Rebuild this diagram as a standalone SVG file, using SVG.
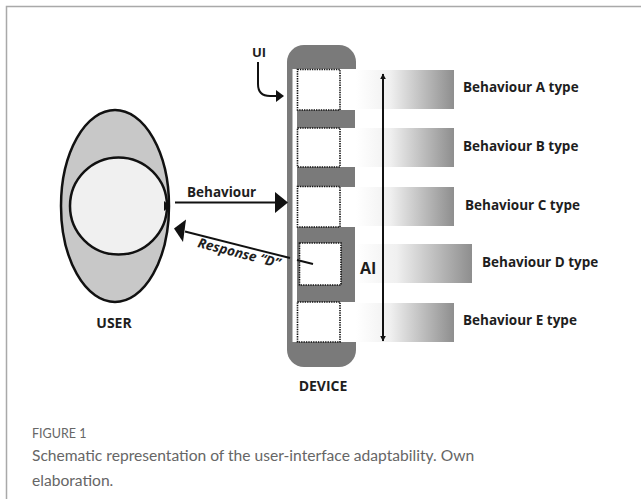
<svg xmlns="http://www.w3.org/2000/svg" width="641" height="499" viewBox="0 0 641 499">
  <defs>
    <linearGradient id="barFade" x1="0" y1="0" x2="1" y2="0">
      <stop offset="0" stop-color="#ffffff"/>
      <stop offset="0.35" stop-color="#f0f0f0"/>
      <stop offset="1" stop-color="#8e8e8e"/>
    </linearGradient>
    <marker id="head" viewBox="0 0 10 10" refX="9" refY="5" markerWidth="6" markerHeight="6" orient="auto-start-reverse" markerUnits="userSpaceOnUse">
      <path d="M0,0 L10,5 L0,10 z" fill="#111"/>
    </marker>
    <style>
      .lbl { font-family: "Open Sans", "Liberation Sans", sans-serif; font-weight: 700; fill: #1e1e1e; }
      .beh { font-size: 13.5px; }
      .dev { fill: #7a7a7a; }
      .slot { fill: #ffffff; stroke: #111; stroke-width: 1.6; stroke-dasharray: 1.4 1; }
      .bar { fill: url(#barFade); }
      .cap { font-family: Lato, "Open Sans", "Liberation Sans", sans-serif; fill: #666; }
    </style>
  </defs>

  <rect width="641" height="499" fill="#ffffff"/>
  <!-- figure frame (left and top edges) -->
  <path d="M6.5,499 V6.5 H641" fill="none" stroke="#a9a9a9" stroke-width="1.5"/>

  <!-- user -->
  <g id="user">
    <ellipse cx="115" cy="206" rx="54" ry="96" fill="#c8c8c8" stroke="#111" stroke-width="2.5"/>
    <circle cx="118.5" cy="206" r="48.5" fill="#f0f0f0" stroke="#111" stroke-width="2.5"/>
    <path d="M164,201 L170,206 L164,211 z" fill="#111"/>
    <text class="lbl" x="114" y="328" font-size="14" text-anchor="middle">USER</text>
  </g>

  <!-- behaviour bars -->
  <g id="bars">
    <rect class="bar" x="356" y="70" width="98" height="39"/>
    <rect class="bar" x="356" y="128" width="98" height="39"/>
    <rect class="bar" x="356" y="187" width="98" height="39"/>
    <rect class="bar" x="356" y="244" width="116" height="39"/>
    <rect class="bar" x="356" y="303" width="98" height="39"/>
  </g>

  <!-- device -->
  <g id="device">
    <path class="dev" d="M287,69 V62 a17,17 0 0 1 17,-17 H339 a17,17 0 0 1 17,17 V69 z"/>
    <path class="dev" d="M287,342 H356 V350 a17,17 0 0 1 -17,17 H304 a17,17 0 0 1 -17,-17 z"/>
    <rect class="dev" x="287" y="69" width="5.5" height="273"/>
    <rect class="dev" x="297" y="110" width="58" height="18"/>
    <rect class="dev" x="297" y="167" width="58" height="20"/>
    <rect class="dev" x="297" y="227" width="58" height="75"/>
    <rect class="slot" x="297.5" y="69.5" width="42.5" height="40.5"/>
    <rect class="slot" x="297.5" y="128" width="42.5" height="39"/>
    <rect class="slot" x="297.5" y="186.5" width="42.5" height="40.5"/>
    <rect class="slot" x="299.5" y="243" width="41.5" height="42"/>
    <rect class="slot" x="297.5" y="302" width="42.5" height="40"/>
    <text class="lbl" x="323" y="391" font-size="14" text-anchor="middle">DEVICE</text>
  </g>

  <!-- labels on the right -->
  <g id="labels">
    <text class="lbl beh" x="463" y="92">Behaviour A type</text>
    <text class="lbl beh" x="463" y="151">Behaviour B type</text>
    <text class="lbl beh" x="465" y="210">Behaviour C type</text>
    <text class="lbl beh" x="482" y="267">Behaviour D type</text>
    <text class="lbl beh" x="463" y="325">Behaviour E type</text>
    <text class="lbl" x="252" y="57" font-size="13">UI</text>
    <text class="lbl" x="360" y="274" font-size="16">AI</text>
  </g>

  <!-- connectors -->
  <g id="connectors" fill="none" stroke="#111">
    <!-- UI pointer -->
    <path d="M258,62 V84 Q258,96 270,96 H277" stroke-width="2"/>
    <path d="M276,90 L284,96 L276,102 z" fill="#111" stroke="none"/>
    <!-- AI range -->
    <line x1="383" y1="74" x2="383" y2="341" stroke-width="2" marker-start="url(#head)" marker-end="url(#head)"/>
    <!-- behaviour -->
    <line x1="175" y1="202.5" x2="276" y2="202.5" stroke-width="2.2"/>
    <path d="M275,192 L288,202.5 L275,213 z" fill="#111" stroke="none"/>
    <!-- response -->
    <line x1="185" y1="231.5" x2="290" y2="258" stroke-width="2"/>
    <line x1="297" y1="260" x2="313" y2="264" stroke-width="2"/>
    <path d="M174,228.5 L186,219.5 L183,242 z" fill="#111" stroke="none"/>
  </g>
  <text class="lbl" x="0" y="0" font-size="13.5" font-style="italic" transform="translate(197,247) rotate(14.3)">Response “D”</text>
  <text class="lbl" x="187" y="197" font-size="13.5">Behaviour</text>

  <!-- caption -->
  <text class="cap" x="32" y="438" font-size="12.5">FIGURE 1</text>
  <text class="cap" x="32" y="461" font-size="15.6" fill="#595959">Schematic representation of the user-interface adaptability. Own</text>
  <text class="cap" x="32" y="486" font-size="15.6" fill="#595959">elaboration.</text>
</svg>
